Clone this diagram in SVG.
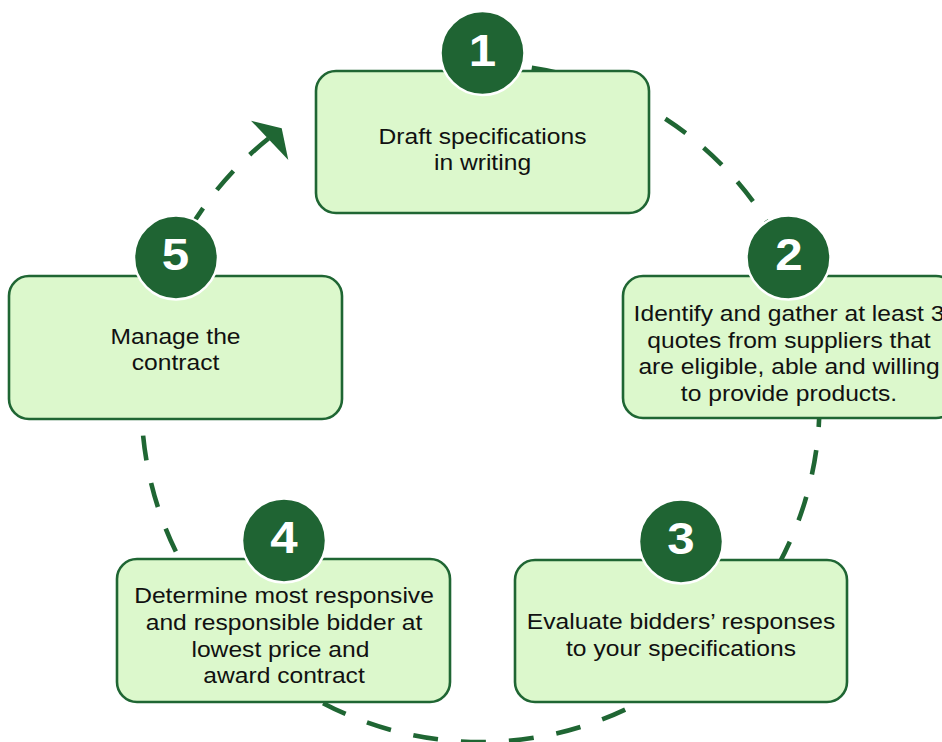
<svg xmlns="http://www.w3.org/2000/svg" width="942" height="742" viewBox="0 0 942 742">
<defs>
<style>
.box{fill:#dcf8cc;stroke:#1f6633;stroke-width:2.6}
.badge{fill:#1f6433;stroke:#ffffff;stroke-width:2.5}
.num{font-family:"Liberation Sans",Arial,sans-serif;font-weight:bold;font-size:44px;fill:#ffffff;text-anchor:middle}
.lbl{font-family:"Liberation Sans",Arial,sans-serif;font-size:22px;fill:#111111;text-anchor:middle}
.conn{fill:none;stroke:#1f6633;stroke-width:4.6;stroke-dasharray:25 23}
</style>
</defs>
<rect width="942" height="742" fill="#ffffff"/>
<g id="connectors">
<path class="conn" d="M268.5,138.5 A339,339 0 1 0 480,64"/>
<polygon points="251,120.7 281.7,128.3 288.3,160" fill="#1f6633"/>
</g>
<g id="node1">
<rect class="box" x="316" y="71" width="333" height="142" rx="20"/>
<circle class="badge" cx="482.5" cy="53" r="42"/>
<g transform="translate(482.5 0) scale(1.12 1)">
<text class="num" x="0" y="66">1</text>
<text class="lbl" x="0" y="144">Draft specifications</text>
<text class="lbl" x="0" y="170">in writing</text>
</g>
</g>
<g id="node2">
<rect class="box" x="623" y="276" width="333" height="142" rx="20"/>
<circle class="badge" cx="788.5" cy="257.5" r="42"/>
<g transform="translate(789 0) scale(1.12 1)">
<text class="num" x="0" y="270.5">2</text>
<text class="lbl" x="0" y="321.5">Identify and gather at least 3</text>
<text class="lbl" x="0" y="348">quotes from suppliers that</text>
<text class="lbl" x="0" y="374.5">are eligible, able and willing</text>
<text class="lbl" x="0" y="401">to provide products.</text>
</g>
</g>
<g id="node3">
<rect class="box" x="515" y="560" width="332" height="142" rx="20"/>
<circle class="badge" cx="681" cy="541.5" r="42"/>
<g transform="translate(681 0) scale(1.12 1)">
<text class="num" x="0" y="554.5">3</text>
<text class="lbl" x="0" y="629.5">Evaluate bidders’ responses</text>
<text class="lbl" x="0" y="656.5">to your specifications</text>
</g>
</g>
<g id="node4">
<rect class="box" x="117" y="559" width="333" height="143" rx="20"/>
<circle class="badge" cx="284" cy="540.5" r="42"/>
<g transform="translate(284 0) scale(1.12 1)">
<text class="num" x="0" y="553.5">4</text>
<text class="lbl" x="0" y="603.5">Determine most responsive</text>
<text class="lbl" x="0" y="630">and responsible bidder at</text>
<text class="lbl" x="-3.2" y="657">lowest price and</text>
<text class="lbl" x="0" y="683.5">award contract</text>
</g>
</g>
<g id="node5">
<rect class="box" x="9" y="276" width="333" height="143" rx="20"/>
<circle class="badge" cx="176" cy="257.5" r="42"/>
<g transform="translate(175.5 0) scale(1.12 1)">
<text class="num" x="0" y="270.5">5</text>
<text class="lbl" x="0" y="344">Manage the</text>
<text class="lbl" x="0" y="370.5">contract</text>
</g>
</g>
</svg>
